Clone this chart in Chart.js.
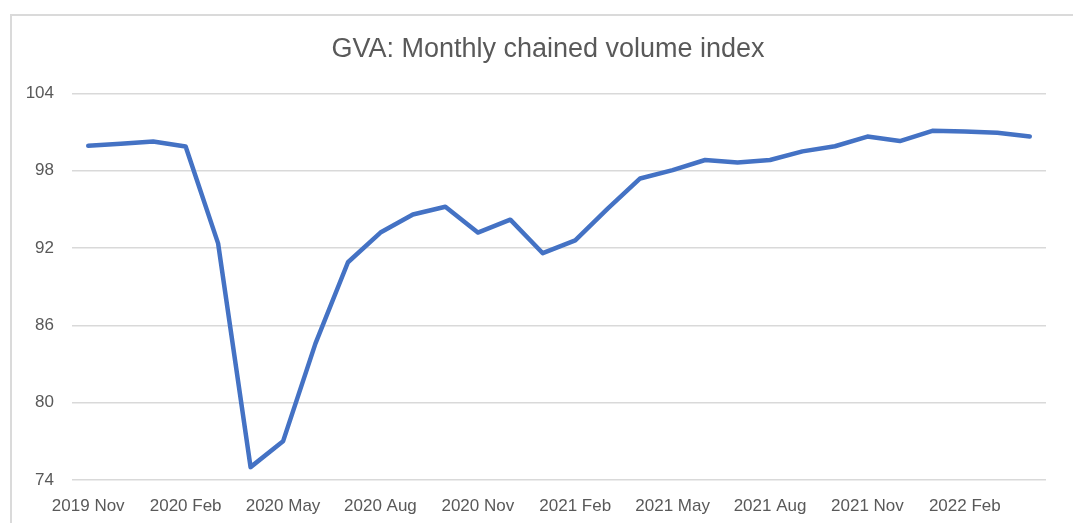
<!DOCTYPE html>
<html>
<head>
<meta charset="utf-8">
<script src="https://cdn.jsdelivr.net/npm/chart.js@4.4.1/dist/chart.umd.min.js"></script>
<style>
  html, body { margin: 0; padding: 0; background: #ffffff; overflow: hidden; width: 1073px; height: 523px; }
  #frame { position: absolute; left: 10px; top: 14px; width: 1100px; height: 540px; border-left: 2px solid #dadada; border-top: 2px solid #dadada; }
  #c { position: absolute; left: 0; top: 0; }
</style>
</head>
<body>
<div id="frame"><canvas id="c" width="1072" height="507"></canvas></div>
<script>
const categories = [
  '2019 Nov','2019 Dec','2020 Jan','2020 Feb','2020 Mar','2020 Apr','2020 May','2020 Jun','2020 Jul','2020 Aug',
  '2020 Sep','2020 Oct','2020 Nov','2020 Dec','2021 Jan','2021 Feb','2021 Mar','2021 Apr','2021 May','2021 Jun',
  '2021 Jul','2021 Aug','2021 Sep','2021 Oct','2021 Nov','2021 Dec','2022 Jan','2022 Feb','2022 Mar','2022 Apr'
];
const gvaIndex = [
  99.93, 100.1, 100.26, 99.88, 92.36, 75.0, 77.0, 84.6, 90.9, 93.2,
  94.6, 95.2, 93.2, 94.2, 91.6, 92.6, 95.06, 97.4, 98.05, 98.83,
  98.64, 98.83, 99.5, 99.9, 100.65, 100.3, 101.1, 101.05, 100.95, 100.65
];
const yTicks = [74, 80, 86, 92, 98, 104];
const chartTitle = 'GVA: Monthly chained volume index';

const textColor = '#595959';
const fontFamily = '"Liberation Sans", Arial, sans-serif';

new Chart(document.getElementById('c'), {
  type: 'line',
  data: {
    labels: categories,
    datasets: [{
      data: gvaIndex,
      borderColor: '#4472c4',
      backgroundColor: '#4472c4',
      borderWidth: 4.5,
      pointRadius: 0,
      tension: 0,
      borderJoinStyle: 'round',
      borderCapStyle: 'round',
      fill: false
    }]
  },
  options: {
    responsive: false,
    animation: false,
    layout: { padding: { left: 13, right: 13, top: 0, bottom: 0 } },
    plugins: {
      legend: { display: false },
      tooltip: { enabled: false },
      title: {
        display: true,
        text: chartTitle,
        color: textColor,
        font: { family: fontFamily, size: 27, weight: 'normal' },
        padding: { top: 17, bottom: 28 }
      }
    },
    scales: {
      x: {
        type: 'category',
        offset: true,
        grid: { display: false, drawTicks: false },
        border: { display: false },
        ticks: {
          autoSkip: false,
          maxRotation: 0,
          minRotation: 0,
          padding: 16,
          color: textColor,
          font: { family: fontFamily, size: 17 },
          callback: function (value, index) {
            return index % 3 === 0 ? categories[index] : '';
          }
        },
        afterFit: function (axis) { axis.height = 43; }
      },
      y: {
        min: 74,
        max: 104,
        afterBuildTicks: function (axis) { axis.ticks = yTicks.map(v => ({ value: v })); },
        grid: { color: '#d9d9d9', lineWidth: 1.5, drawTicks: false },
        border: { display: false },
        ticks: {
          padding: 18,
          color: textColor,
          font: { family: fontFamily, size: 17 }
        },
        afterFit: function (axis) { axis.width = 47; }
      },
      yRight: {
        position: 'right',
        min: 74,
        max: 104,
        grid: { display: false, drawTicks: false },
        border: { display: false },
        ticks: { display: false },
        afterFit: function (axis) { axis.width = 25; }
      }
    }
  }
});
</script>
</body>
</html>
